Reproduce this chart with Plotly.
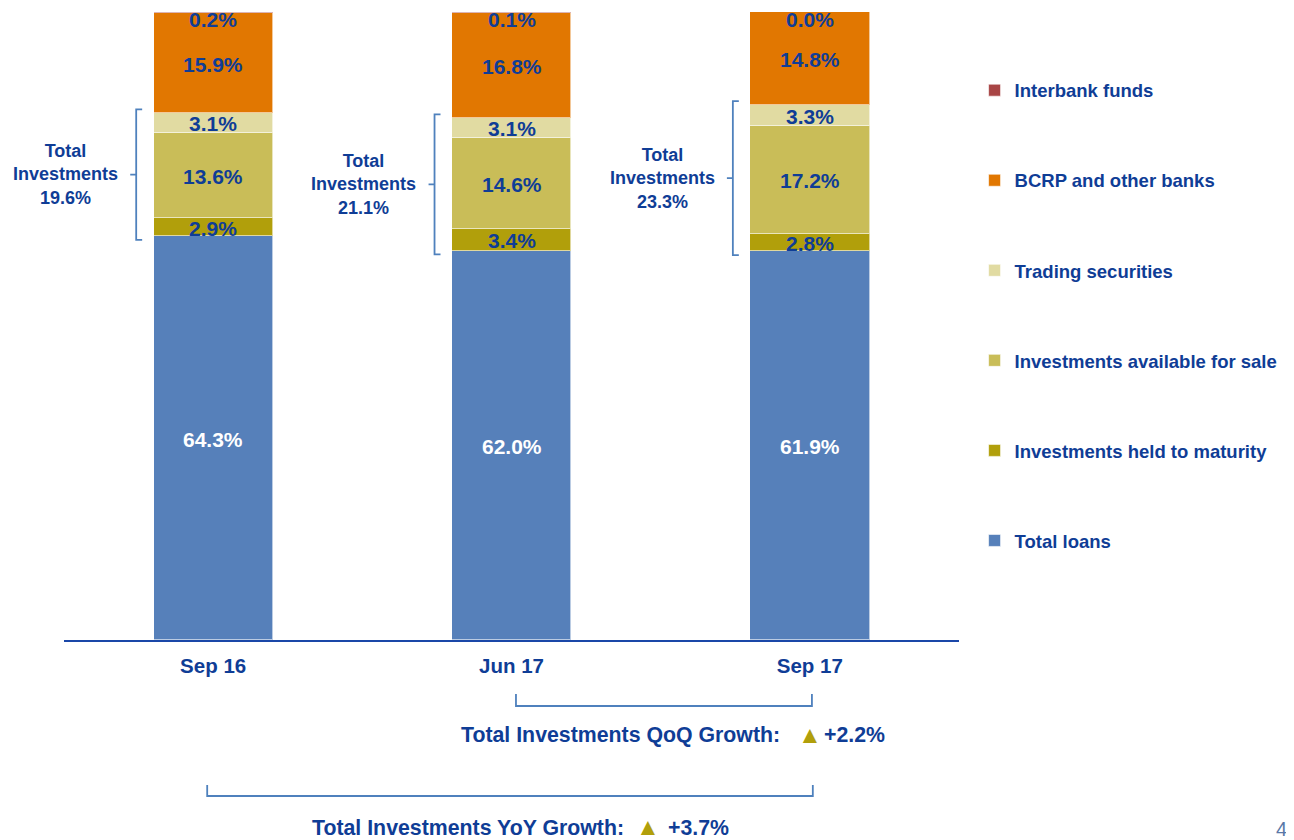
import plotly.graph_objects as go

# ---------------- data ----------------
periods = ["Sep 16", "Jun 17", "Sep 17"]
series_names = ["Total loans", "Investments held to maturity", "Investments available for sale",
                "Trading securities", "BCRP and other banks", "Interbank funds"]
total_loans = [64.3, 62.0, 61.9]
held_to_maturity = [2.9, 3.4, 2.8]
available_for_sale = [13.6, 14.6, 17.2]
trading_securities = [3.1, 3.1, 3.3]
bcrp_other_banks = [15.9, 16.8, 14.8]
interbank_funds = [0.2, 0.1, 0.0]
total_investments = [19.6, 21.1, 23.3]
qoq_growth = "+2.2%"
yoy_growth = "+3.7%"

series_values = [total_loans, held_to_maturity, available_for_sale,
                 trading_securities, bcrp_other_banks, interbank_funds]
series_colors = ["#5680BA", "#B19F0B", "#C9BD58", "#E1DBA2", "#E17701", "#A84545"]
label_colors = ["#FFFFFF", "#0F3D96", "#0F3D96", "#0F3D96", "#0F3D96", "#0F3D96"]

TXT = "#0F3D96"
BRK = "#4F81BD"
FONT = "Liberation Sans, Arial, sans-serif"

xs = list(range(len(periods)))
fig = go.Figure()
n = len(series_names)
for k, (name, vals, col) in enumerate(zip(series_names, series_values, series_colors)):
    fig.add_trace(go.Bar(
        x=xs, y=vals, name=f"<b>{name}</b>",
        marker=dict(color=col, line=dict(color="rgba(255,255,255,0.6)", width=1)),
        width=0.4, legendgroup=name, legendrank=n - k, hoverinfo="skip",
    ))

annotations = []
shapes = []
# segment labels
for i in xs:
    base = 0.0
    for k, (vals, lc) in enumerate(zip(series_values, label_colors)):
        v = vals[i]
        annotations.append(dict(x=i, y=base + v / 2, xref="x", yref="y", text=f"<b>{v:.1f}%</b>",
                                showarrow=False, xanchor="center", yanchor="middle",
                                font=dict(size=21, color=lc, family=FONT),
                                yshift=(-7 if k == n - 1 else -1)))
        base += v

# total-investment brackets
for i in xs:
    lo = total_loans[i] - 0.6
    hi = total_loans[i] + held_to_maturity[i] + available_for_sale[i] + trading_securities[i] + 0.6
    xv = i - 0.258
    mid = (lo + hi) / 2
    path = (f"M {xv + 0.02},{hi} L {xv},{hi} L {xv},{lo} L {xv + 0.02},{lo} "
            f"M {xv},{mid} L {xv - 0.02},{mid}")
    shapes.append(dict(type="path", path=path, xref="x", yref="y", line=dict(color=BRK, width=1.8)))
    annotations.append(dict(x=i - 0.495, y=mid, xref="x", yref="y",
                            text=f"<b>Total<br>Investments<br>{total_investments[i]:.1f}%</b>",
                            showarrow=False, align="center", xanchor="center", yanchor="middle",
                            font=dict(size=18, color=TXT, family=FONT)))

def py(p):
    return (640 - p) / 628.0

# QoQ bracket
shapes.append(dict(type="path", xref="x", yref="paper",
                   path=f"M 1.015,{py(694)} L 1.015,{py(706)} L 2.007,{py(706)} L 2.007,{py(694)}",
                   line=dict(color=BRK, width=1.8)))
# YoY bracket
shapes.append(dict(type="path", xref="x", yref="paper",
                   path=f"M -0.02,{py(785)} L -0.02,{py(796)} L 2.01,{py(796)} L 2.01,{py(785)}",
                   line=dict(color=BRK, width=1.8)))

def note(x, y, text, size, color=TXT, xanchor="center", xref="x"):
    return dict(x=x, y=y, xref=xref, yref="paper", text=text, showarrow=False,
                xanchor=xanchor, yanchor="middle", font=dict(size=size, color=color, family=FONT))

annotations += [
    note(1.367, py(735), "<b>Total Investments QoQ Growth:</b>", 21.3),
    note(2.0, py(734), "▲", 24, color="#B19F0B"),
    note(2.04, py(735), f"<b>{qoq_growth}</b>", 21.3, xanchor="left"),
    note(0.854, py(828), "<b>Total Investments YoY Growth:</b>", 21.3),
    note(1.457, py(827), "▲", 24, color="#B19F0B"),
    note(1.518, py(828), f"<b>{yoy_growth}</b>", 21.3, xanchor="left"),
    note((1281 - 64) / 895.0, py(829), "4", 20, color="#5A78A8", xref="paper"),
]

fig.update_layout(
    width=1286, height=832,
    margin=dict(l=56, r=335, t=4, b=200),
    paper_bgcolor="white", plot_bgcolor="white",
    barmode="stack", bargap=0,
    font=dict(family=FONT, color=TXT, size=18),
    showlegend=True,
    legend=dict(x=1.0174, y=0.905, xanchor="left", yanchor="top", traceorder="grouped",
                tracegroupgap=63, font=dict(size=18.5, color=TXT, family=FONT),
                bgcolor="rgba(0,0,0,0)", itemclick=False),
    xaxis=dict(range=[-0.5, 2.5], tickvals=xs, ticktext=[f"<b>{p}</b>" for p in periods],
               showgrid=False, zeroline=False, showline=True, linecolor="#1A47A8", linewidth=2,
               ticks="", tickfont=dict(size=20.5, color=TXT, family=FONT), ticklabelstandoff=6),
    yaxis=dict(range=[0, 100], visible=False, showgrid=False, zeroline=False),
    annotations=annotations, shapes=shapes,
)

fig.write_html("out.html")
